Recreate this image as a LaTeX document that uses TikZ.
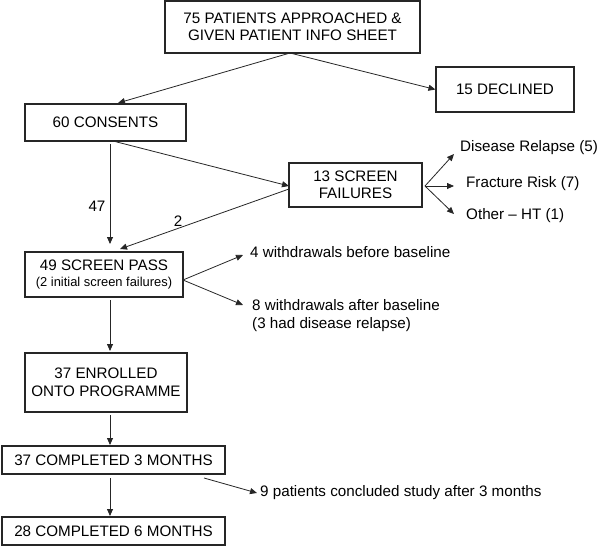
\documentclass[tikz,border=0pt]{standalone}
\usepackage{fontspec}
\setmainfont{Liberation Sans}
\usetikzlibrary{arrows.meta,calc}
\begin{document}
\begin{tikzpicture}[x=1pt,y=-1pt,
  box/.style={draw=black!85,line width=1.1pt,inner sep=0pt,align=center,font=\fontsize{15.2}{17.5}\selectfont},
  lbl/.style={inner sep=0pt,font=\fontsize{15.2}{17.5}\selectfont},
  arr/.style={draw=black!85,line width=0.8pt,-{Triangle[length=7pt,width=6pt]}}]
\useasboundingbox[fill=white] (0,0) rectangle (600,546);
% boxes
\node[box,minimum width=255,minimum height=52] (top) at (292.5,27) {75 PATIENTS APPROACHED \&\\GIVEN PATIENT INFO SHEET};
\node[box,minimum width=138,minimum height=45] (decl) at (505,89.5) {15 DECLINED};
\node[box,minimum width=161,minimum height=37] (cons) at (105.5,122.5) {60 CONSENTS};
\node[box,minimum width=133,minimum height=44] (fail) at (355.5,185) {13 SCREEN\\FAILURES};
\node[box,minimum width=158,minimum height=45] (pass) at (104,274.5) {49 SCREEN PASS\\[-1pt]{\fontsize{12.9}{14}\selectfont (2 initial screen failures)}};
\node[box,minimum width=162,minimum height=59] (enr) at (106,382.5) {37 ENROLLED\\ONTO PROGRAMME};
\node[box,minimum width=223,minimum height=28] (c3) at (113.5,460) {37 COMPLETED 3 MONTHS};
\node[box,minimum width=223,minimum height=28] (c6) at (113.5,531) {28 COMPLETED 6 MONTHS};
% side texts
\node[lbl,anchor=west] (dr) at (460,148) {Disease Relapse (5)};
\node[lbl,anchor=west] (fr) at (466,184) {Fracture Risk (7)};
\node[lbl,anchor=west] (ot) at (466,216) {Other -- HT (1)};
\node[lbl,anchor=west] (w4) at (250,252) {4 withdrawals before baseline};
\node[lbl,anchor=west,align=left] (w8) at (252,315.5) {8 withdrawals after baseline\\(3 had disease relapse)};
\node[lbl,anchor=west] (nine) at (260,493) {9 patients concluded study after 3 months};
\node[lbl] (n47) at (97,206) {47};
\node[lbl] (n2) at (178,221) {2};
% coordinates for arrow ends
\coordinate (topo) at (290,53);
\coordinate (consT) at (118,103);
\coordinate (consB) at (113,141);
\coordinate (failL) at (289,186);
\coordinate (failO) at (289,189);
\coordinate (vA) at (110,144);
\coordinate (vB) at (110,244);
\coordinate (twoE) at (120,249);
\coordinate (fanF) at (425,186);
\coordinate (t1) at (454,154);
\coordinate (t2) at (454,186);
\coordinate (t3) at (454,214);
\coordinate (fanP) at (183,280);
\coordinate (t4) at (243,255);
\coordinate (t5) at (243,305);
\coordinate (p1) at (110,300);
\coordinate (p2) at (110,351);
\coordinate (e1) at (110,415);
\coordinate (e2) at (110,445);
\coordinate (c1) at (110,478);
\coordinate (c2) at (110,516);
\coordinate (nA) at (204,478);
\coordinate (nB) at (257,493);
% connectors
\draw[arr] (topo) -- (consT);
\draw[arr] (topo) -- (decl.west);
\draw[arr] (consB) -- (failL);
\draw[arr] (vA) -- (vB);
\draw[arr] (failO) -- (twoE);
\draw[arr] (fanF) -- (t1);
\draw[arr] (fanF) -- (t2);
\draw[arr] (fanF) -- (t3);
\draw[arr] (fanP) -- (t4);
\draw[arr] (fanP) -- (t5);
\draw[arr] (p1) -- (p2);
\draw[arr] (e1) -- (e2);
\draw[arr] (c1) -- (c2);
\draw[arr] (nA) -- (nB);
\end{tikzpicture}
\end{document}
